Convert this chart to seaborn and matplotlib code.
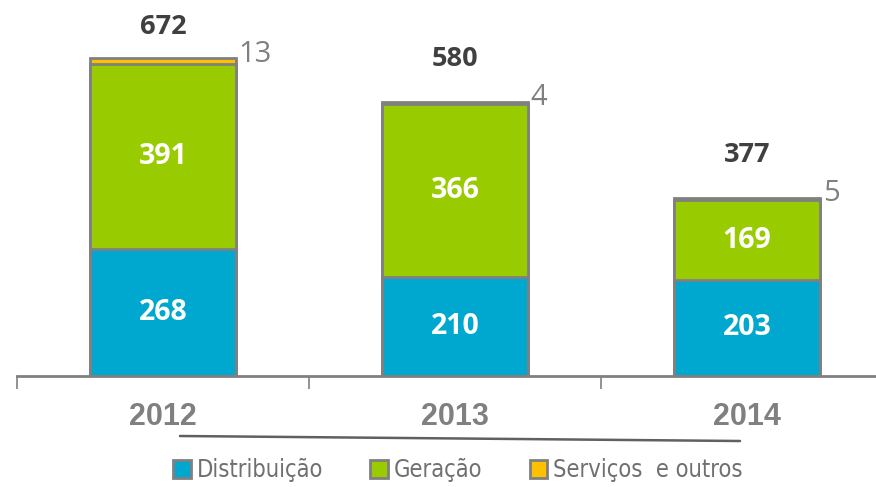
import numpy as np
import pandas as pd
import seaborn as sns
import matplotlib.pyplot as plt
from matplotlib.patches import Patch
from matplotlib.lines import Line2D

years = ['2012', '2013', '2014']
distribuicao = [268, 210, 203]
geracao = [391, 366, 169]
servicos = [13, 4, 5]
totals = [672, 580, 377]

series_names = ['Distribuição', 'Geração', 'Serviços  e outros']
colors = ['#00A8CF', '#99CC00', '#FFC000']
EDGE = '#808080'

df = pd.DataFrame({'year': years, 'dist': distribuicao, 'ger': geracao, 'serv': servicos})
df['lvl1'] = df['dist']
df['lvl2'] = df['dist'] + df['ger']
df['lvl3'] = df['lvl2'] + df['serv']

sns.set_theme(style='white')
plt.rcParams['font.family'] = ['Open Sans', 'DejaVu Sans']

fig = plt.figure(figsize=(8.76, 4.87), dpi=100)
ax = fig.add_axes([17 / 876, 111 / 487, 1.0, 376 / 487])

# stacked by overdrawing cumulative sums, top layer first
for col, c in zip(['lvl3', 'lvl2', 'lvl1'], colors[::-1]):
    sns.barplot(data=df, x='year', y=col, color=c, width=0.5, saturation=1,
                edgecolor=EDGE, linewidth=2, ax=ax)

ax.set_xlim(-0.5, 2.5)
ax.set_ylim(0, 795)
ax.set_xlabel('')
ax.set_ylabel('')
ax.set_yticks([])
for s in ['top', 'right', 'left']:
    ax.spines[s].set_visible(False)
ax.spines['bottom'].set_color(EDGE)
ax.spines['bottom'].set_linewidth(2)

ax.set_xticks([0, 1, 2])
ax.set_xticklabels(years, fontsize=22, fontweight='bold', color='#808080',
                   family=['Liberation Sans', 'DejaVu Sans'])
ax.tick_params(axis='x', which='major', bottom=True, length=0, pad=19)
ax.set_xticks([-0.5, 0.5, 1.5], minor=True)
ax.tick_params(axis='x', which='minor', bottom=True, length=9, width=1.2,
               color=EDGE, direction='out')

for i in range(len(years)):
    ax.text(i, distribuicao[i] / 2, str(distribuicao[i]), ha='center', va='center',
            color='white', fontsize=20.5, fontweight='bold')
    ax.text(i, distribuicao[i] + geracao[i] / 2, str(geracao[i]), ha='center', va='center',
            color='white', fontsize=20.5, fontweight='bold')
    ax.text(i, min(totals[i] + 90, 738), str(totals[i]), ha='center', va='center',
            color='#404040', fontsize=19.5, fontweight='bold')
    ax.annotate(str(servicos[i]), (i + 0.25, totals[i]), xytext=(2, 3), textcoords='offset points',
                ha='left', va='center', color='#808080', fontsize=21)

# underline below the year labels
fig.add_artist(Line2D([180 / 876, 740 / 876], [1 - 436 / 487, 1 - 441 / 487],
                      color='#606060', lw=1.8, transform=fig.transFigure))

handles = [Patch(facecolor=c, edgecolor=EDGE, linewidth=2) for c in colors]
leg = fig.legend(handles, series_names, loc='center', bbox_to_anchor=(458 / 876, 1 - 470 / 487),
                 ncol=3, frameon=False, handlelength=0.75, handleheight=0.8,
                 handletextpad=0.25, columnspacing=2.0,
                 prop={'family': 'DejaVu Sans', 'stretch': 'condensed', 'size': 17})
for t in leg.get_texts():
    t.set_color('#707070')

fig.savefig('out.png', dpi=100)
